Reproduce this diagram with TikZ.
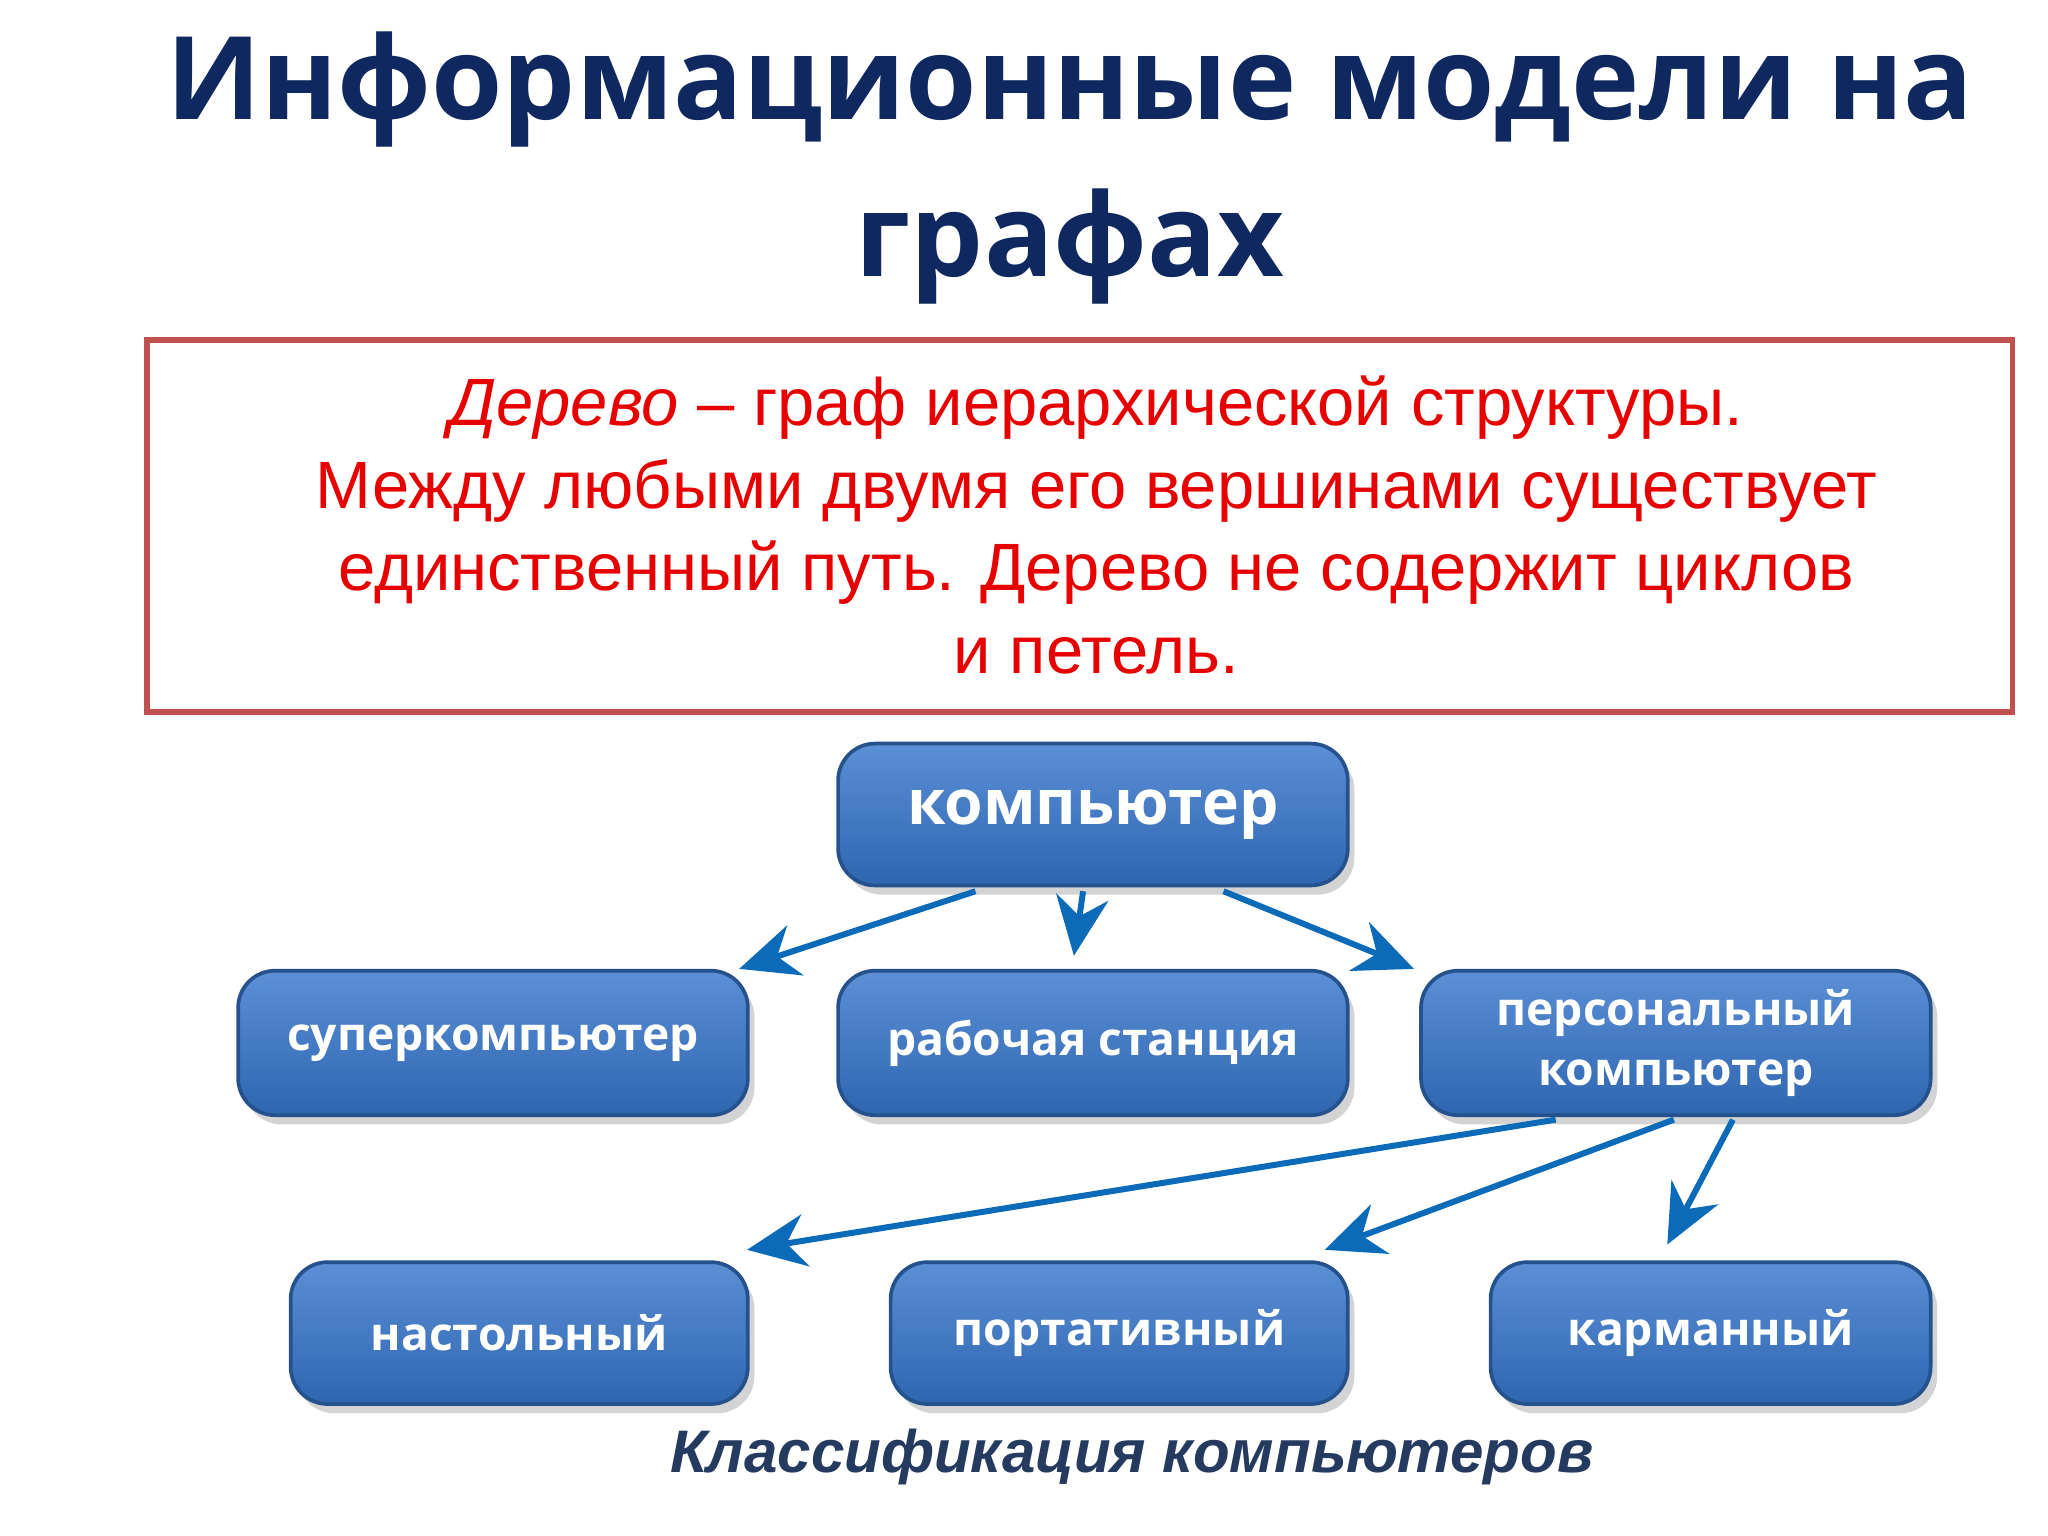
\documentclass[tikz,border=0pt]{standalone}
\usepackage{fontspec}
\setmainfont{Liberation Sans}
\newfontfamily\osans{Open Sans}
\usetikzlibrary{calc,shadows,arrows.meta}
\definecolor{titleblue}{HTML}{0F2860}
\definecolor{boxtop}{HTML}{5B8FD6}
\definecolor{boxbot}{HTML}{2E66B0}
\definecolor{arrowblue}{HTML}{0B6BB8}
\definecolor{capcol}{HTML}{243A5E}
\tikzset{
  bluebox/.style={draw=boxbot!80!black, line width=0.8pt, rounded corners=8pt,
    top color=boxtop, bottom color=boxbot, anchor=north west,
    drop shadow={shadow xshift=0.5mm,shadow yshift=-0.7mm,opacity=0.35},
    text=white, font=\osans\bfseries\fontsize{10}{13}\selectfont, align=center, inner sep=0pt},
  conn/.style={arrowblue, line width=1.3pt, -{Stealth[length=4.5mm,width=4mm]}}
}
\begin{document}
\begin{tikzpicture}[x=0.01cm,y=-0.01cm]
\useasboundingbox (0,0) rectangle (1560,1170);
\node[font=\osans\bfseries\fontsize{25}{30}\selectfont, text=titleblue, align=center] (title) at (815,128) {Информационные модели на\\[4pt]графах};
\node[draw={rgb,255:red,192;green,80;blue,77}, line width=1.2pt, minimum width=14.2cm, minimum height=2.83cm, anchor=north west, inner sep=0pt] (def) at (110,257) {};
\node[text={rgb,255:red,230;green,0;blue,0}, font=\fontsize{14.5}{17.9}\selectfont, align=center] (deftext) at (835,400) {\textit{Дерево} – граф иерархической структуры.\\Между любыми двумя его вершинами существует\\единственный путь. Дерево не содержит циклов\\и петель.};
\node[bluebox, minimum width=3.88cm, minimum height=1.08cm, font=\osans\bfseries\fontsize{13.5}{16}\selectfont] (comp) at (637,565) {компьютер};
\node[bluebox, minimum width=3.88cm, minimum height=1.1cm] (super) at (180,738) {суперкомпьютер};
\node[bluebox, minimum width=3.88cm, minimum height=1.1cm] (work) at (637,738) {рабочая станция};
\node[bluebox, minimum width=3.88cm, minimum height=1.1cm] (pc) at (1081,738) {персональный\\компьютер};
\node[bluebox, minimum width=3.48cm, minimum height=1.08cm] (desk) at (220,960) {настольный};
\node[bluebox, minimum width=3.48cm, minimum height=1.08cm] (lap) at (677,960) {портативный};
\node[bluebox, minimum width=3.35cm, minimum height=1.08cm] (pocket) at (1134,960) {карманный};
\node[text=capcol, font=\bfseries\itshape\fontsize{13}{15}\selectfont] (cap) at (862,1110) {Классификация компьютеров};
\draw[conn] ($(comp.south west)+(106,3)$) -- ($(super.north east)+(-8,0)$);
\draw[conn] ($(comp.south west)+(188,3)$) -- ($(work.north west)+(181,-10)$);
\draw[conn] ($(comp.south west)+(295,3)$) -- ($(pc.north west)+(-4,0)$);
\draw[conn] ($(pc.south west)+(104,2)$) -- ($(desk.north east)+(-2,-8)$);
\draw[conn] ($(pc.south west)+(194,2)$) -- ($(lap.north east)+(-19,-8)$);
\draw[conn] ($(pc.south west)+(239,2)$) -- ($(pocket.north west)+(136,-12)$);
\end{tikzpicture}
\end{document}
